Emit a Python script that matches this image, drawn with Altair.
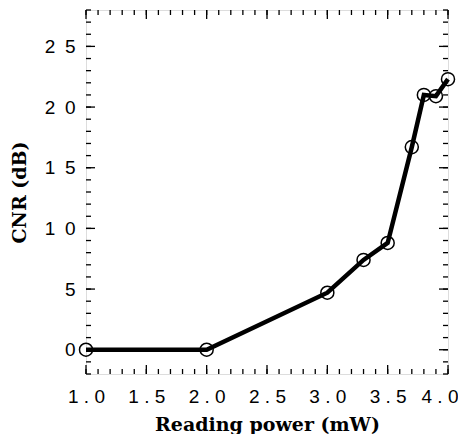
import altair as alt
import pandas as pd

# data
power_mw = [1.0, 2.0, 3.0, 3.3, 3.5, 3.7, 3.8, 3.9, 4.0]
cnr_db = [0.0, 0.0, 4.7, 7.4, 8.8, 16.7, 21.0, 20.9, 22.3]

x_tick_labels = [1.0, 1.5, 2.0, 2.5, 3.0, 3.5, 4.0]
y_tick_labels = [0, 5, 10, 15, 20, 25]
x_minor = [round(1.0 + 0.1 * i, 1) for i in range(31)]
y_minor = list(range(-2, 29))

W, H = 362, 364

df = pd.DataFrame({"power": power_mw, "cnr": cnr_db})
xs = alt.Scale(domain=[1, 4], nice=False, zero=False)
ys = alt.Scale(domain=[-2, 28], nice=False, zero=False)

x_axis = alt.Axis(
    values=x_tick_labels, ticks=False, domain=False, grid=False, labelFlush=False,
    labelOverlap=False,
    labelExpr="join(split(format(datum.value, '.1f'), ''), ' ')",
    labelAlign={"expr": "datum.value >= 4 ? 'right' : 'center'"},
    labelOffset={"expr": "datum.value >= 4 ? 10 : 0"},
    labelFont="Liberation Sans", labelFontSize=19, labelColor="black",
    labelPadding=13, title="Reading power (mW)", titleFont="DejaVu Serif",
    titleFontWeight="bold", titleFontSize=19, titleColor="black", titlePadding=9,
)
y_axis = alt.Axis(
    values=y_tick_labels, ticks=False, domain=False, grid=False, labelFlush=False,
    labelOverlap=False,
    labelExpr="join(split(format(datum.value, 'd'), ''), '\u2002')",
    labelFont="Liberation Sans", labelFontSize=19, labelColor="black",
    labelPadding=11, title="CNR (dB)", titleFont="DejaVu Serif",
    titleFontWeight="bold", titleFontSize=19, titleColor="black", titlePadding=15,
)

line = alt.Chart(df).mark_line(color="black", strokeWidth=4.5).encode(
    x=alt.X("power:Q", scale=xs, axis=x_axis),
    y=alt.Y("cnr:Q", scale=ys, axis=y_axis),
)
points = alt.Chart(df).mark_point(
    shape="circle", filled=False, color="black", size=170, strokeWidth=1.5, opacity=1
).encode(x=alt.X("power:Q", scale=xs, axis=x_axis), y=alt.Y("cnr:Q", scale=ys, axis=y_axis))

xmaj = pd.DataFrame({"v": x_tick_labels})
xmin = pd.DataFrame({"v": x_minor})
ymaj = pd.DataFrame({"v": y_tick_labels})
ymin = pd.DataFrame({"v": y_minor})

def xticks(d, length):
    bottom = alt.Chart(d).mark_rule(color="black", strokeWidth=1.3).encode(
        x=alt.X("v:Q", scale=xs, axis=x_axis), y=alt.value(H), y2=alt.value(H - length))
    top = alt.Chart(d).mark_rule(color="black", strokeWidth=1.3).encode(
        x=alt.X("v:Q", scale=xs, axis=x_axis), y=alt.value(0), y2=alt.value(length))
    return [bottom, top]

def yticks(d, length):
    left = alt.Chart(d).mark_rule(color="black", strokeWidth=1.3).encode(
        y=alt.Y("v:Q", scale=ys, axis=y_axis), x=alt.value(0), x2=alt.value(length))
    right = alt.Chart(d).mark_rule(color="black", strokeWidth=1.3).encode(
        y=alt.Y("v:Q", scale=ys, axis=y_axis), x=alt.value(W), x2=alt.value(W - length))
    return [left, right]

layers = [line] + xticks(xmin, 5) + xticks(xmaj, 9) + yticks(ymin, 5) + yticks(ymaj, 9) + [points]

chart = alt.layer(*layers).properties(
    width=W, height=H,
    autosize=alt.AutoSizeParams(type="none"),
    padding={"left": 78, "top": 2, "right": 10, "bottom": 60},
).configure_view(stroke="black", strokeWidth=1.5).configure(background="white")

chart.save("out.html", embed_options={"renderer": "svg", "actions": False})
